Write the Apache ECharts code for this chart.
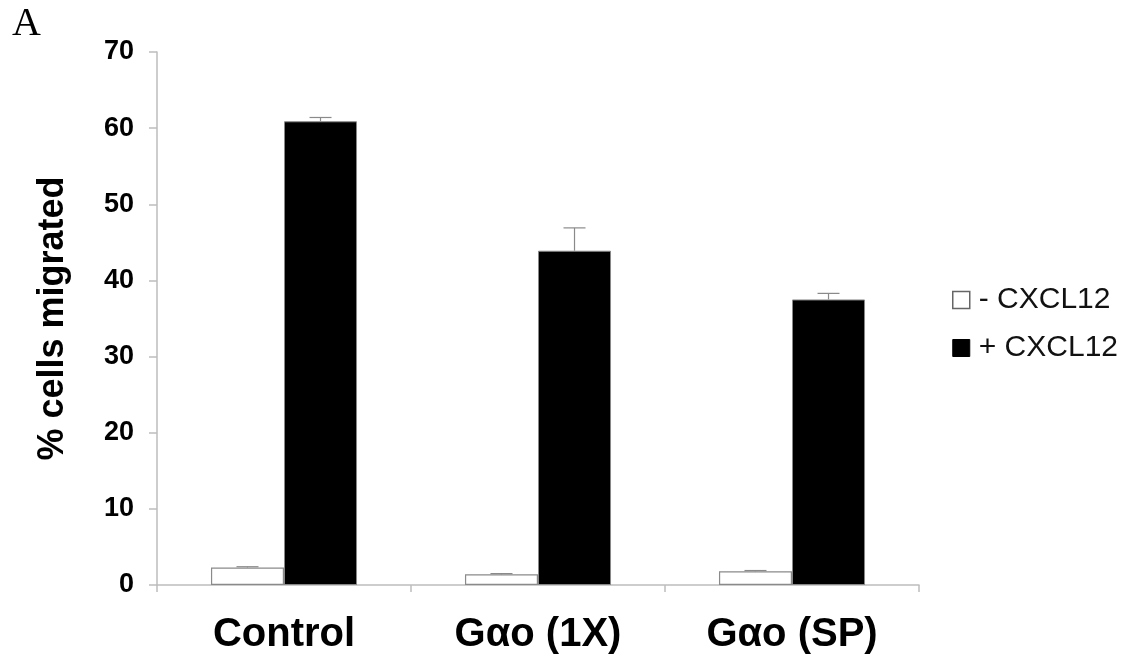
<!DOCTYPE html>
<html>
<head>
  <meta charset="UTF-8">
  <style>
    body { margin: 0; background: #fff; }
    #chart { width: 1135px; height: 655px; }
  </style>
  <script src="https://cdn.jsdelivr.net/npm/echarts@6/dist/echarts.min.js"></script>
</head>
<body>
  <div id="chart"></div>
  <script>
    // data
    var groups = ['Control', 'Gαo (1X)', 'Gαo (SP)'];
    var minusCxcl = [2.3, 1.4, 1.8];
    var minusErr = [0.1, 0.1, 0.1];
    var plusCxcl = [60.9, 43.9, 37.5];
    var plusErr = [0.5, 3.0, 0.8];
    var yTicks = [0, 10, 20, 30, 40, 50, 60, 70];

    var GAP = 0.425;
    var font = 'Liberation Sans, Arial, sans-serif';

    function errSeries(vals, errs, side) {
      return {
        type: 'custom',
        silent: true,
        z: 5,
        data: vals.map(function (v, i) { return [i, v, v + errs[i]]; }),
        renderItem: function (params, api) {
          var band = api.size([1, 0])[0];
          var bw = band * (1 - GAP) / 2;
          var base = api.coord([api.value(0), api.value(1)]);
          var top = api.coord([api.value(0), api.value(2)]);
          var x = base[0] + side * bw / 2;
          var cap = 11;
          var st = { stroke: '#8a8a8a', lineWidth: 1.2 };
          return {
            type: 'group',
            children: [
              { type: 'line', shape: { x1: x, y1: base[1], x2: x, y2: top[1] }, style: st },
              { type: 'line', shape: { x1: x - cap, y1: top[1], x2: x + cap, y2: top[1] }, style: st }
            ]
          };
        }
      };
    }

    var chart = echarts.init(document.getElementById('chart'));
    chart.setOption({
      animation: false,
      backgroundColor: '#fff',
      graphic: [{
        type: 'text', left: 12, top: 4,
        style: { text: 'A', font: '40px "Liberation Serif", "Times New Roman", serif', fill: '#000' }
      }],
      legend: {
        orient: 'vertical',
        left: 947,
        top: 280,
        itemGap: 18,
        itemWidth: 17,
        itemHeight: 17,
        icon: 'rect',
        textStyle: { fontFamily: font, fontSize: 30, color: '#111', padding: [0, 0, 0, 4] },
        data: [
          { name: '- CXCL12', itemStyle: { color: '#fff', borderColor: '#666', borderWidth: 1.5 } },
          { name: '+ CXCL12', itemStyle: { color: '#000', borderColor: '#000', borderWidth: 1 } }
        ]
      },
      grid: { left: 157, right: 216, top: 52, bottom: 69 },
      xAxis: {
        type: 'category',
        data: groups,
        axisLine: { lineStyle: { color: '#bdbdbd', width: 1.5 } },
        axisTick: { show: true, length: 7, lineStyle: { color: '#bdbdbd', width: 1.5 } },
        axisLabel: { margin: 30, fontFamily: font, fontSize: 40, fontWeight: 'bold', color: '#000' }
      },
      yAxis: {
        type: 'value',
        min: 0, max: 70, interval: 10,
        name: '% cells migrated',
        nameLocation: 'middle',
        nameGap: 86,
        nameTextStyle: { fontFamily: font, fontSize: 36, fontWeight: 'bold', color: '#000' },
        axisLine: { show: true, lineStyle: { color: '#bdbdbd', width: 1.5 } },
        axisTick: { show: true, length: 8, lineStyle: { color: '#bdbdbd', width: 1.5 } },
        splitLine: { show: false },
        axisLabel: {
          margin: 23, fontFamily: font, fontSize: 27, fontWeight: 'bold', color: '#000',
          formatter: function (v) { return yTicks.indexOf(v) >= 0 ? String(v) : ''; }
        }
      },
      series: [
        {
          name: '- CXCL12', type: 'bar', data: minusCxcl,
          barGap: 0, barCategoryGap: (GAP * 100) + '%',
          itemStyle: { color: '#fff', borderColor: '#8a8a8a', borderWidth: 1.2 }
        },
        {
          name: '+ CXCL12', type: 'bar', data: plusCxcl,
          barGap: 0, barCategoryGap: (GAP * 100) + '%',
          itemStyle: { color: '#000', borderColor: '#888', borderWidth: 1 }
        },
        errSeries(minusCxcl, minusErr, -1),
        errSeries(plusCxcl, plusErr, 1)
      ]
    });
  </script>
</body>
</html>
